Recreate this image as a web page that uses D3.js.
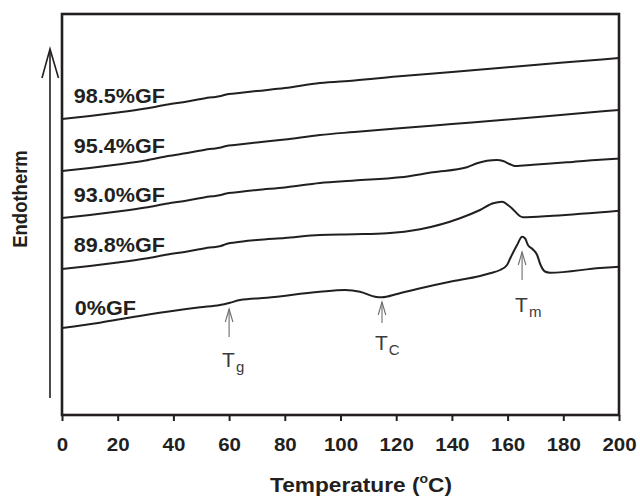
<!DOCTYPE html>
<html>
<head>
<meta charset="utf-8">
<script src="https://cdn.jsdelivr.net/npm/d3@7/dist/d3.min.js"></script>
<style>
  html, body { margin: 0; padding: 0; background: #fff; }
  svg { display: block; font-family: "Liberation Sans", Arial, Helvetica, sans-serif; }
</style>
</head>
<body>
<svg id="chart" width="640" height="498"></svg>
<script>
// DSC heating scans of PLA / glass-fibre composites.
// Temperature in °C; heat flow in arbitrary units (curves offset vertically).
const temperatureTicks = [0, 20, 40, 60, 80, 100, 120, 140, 160, 180, 200];

const curveLabels = ["98.5%GF", "95.4%GF", "93.0%GF", "89.8%GF", "0%GF"];

const gf985 = [
  [0, 296], [10, 299], [20, 302.5], [30, 306.5], [38, 310.5], [45, 313.5], [50, 316],
  [53, 317.5], [55, 318], [57, 319], [59, 320.5], [62, 321.5], [70, 324], [80, 327],
  [92.6, 332], [105, 334.5], [120, 338.4], [140, 343], [160, 347.7], [180, 352.4], [200, 357]
];

const gf954 = [
  [0, 244], [10, 247], [20, 250.5], [30, 254.5], [38, 259], [45, 262], [50, 264.5],
  [53, 266], [55, 266.5], [57, 267.5], [59, 269], [62, 270], [70, 272.5], [80, 275.5],
  [92.6, 280], [105, 283], [120, 286.5], [140, 291], [160, 295.5], [180, 300.3], [200, 305]
];

const gf930 = [
  [0, 197], [10, 200], [20, 203.5], [30, 207.5], [38, 211.5], [45, 214.5], [50, 217],
  [53, 218.5], [55, 219], [57, 220], [59, 221.5], [62, 222.5], [70, 225], [80, 227.5],
  [92.6, 232], [105, 234.5], [121.4, 237.7], [133.2, 242.7], [145.4, 247.7], [149, 251.7],
  [152.6, 254.3], [156.2, 255], [158.4, 254], [160.9, 250.7], [162.7, 249], [169.1, 250.3],
  [181.3, 252.7], [193.2, 255.3], [200, 256.3]
];

const gf898 = [
  [0, 146], [10, 149], [20, 152.5], [30, 156.5], [38, 160.5], [45, 163.5], [50, 166],
  [53, 167.5], [55, 168], [57, 169], [59, 171], [62, 172.5], [70, 175], [80, 177],
  [92.6, 180], [105, 180.7], [116.7, 181.7], [128.6, 185.7], [142.9, 196.7], [150.1, 205],
  [154.8, 211.7], [158, 213.3], [160.9, 208.3], [165.5, 197.7], [176.3, 199.3], [200, 204.3]
];

const gf0 = [
  [0, 87], [13.6, 92.3], [25.5, 98], [37.7, 103.3], [49.6, 107.7], [56.7, 110], [60.3, 112.3],
  [63.9, 115], [73.6, 117.3], [92.6, 123.3], [101.6, 125], [107, 123.3], [112.4, 118.3],
  [114.9, 117.7], [120.3, 121], [127.5, 126], [139.3, 133.3], [150.1, 139], [153.7, 141.7],
  [157.3, 145], [159.8, 150], [161, 157], [163.4, 170], [165.2, 178.3], [166.3, 176.5],
  [167.3, 170], [169.1, 165.5], [170.6, 160], [171.7, 151], [173.4, 143.5], [175.2, 142.3],
  [193.2, 147], [200, 148.3]
];

const seriesList = [gf985, gf954, gf930, gf898, gf0];
// label anchor: temperature of the label start and heat-flow level of its baseline
const labelTemps = [4.2, 4.2, 4.2, 4.2, 4.6];
const labelLevels = [312, 262, 213, 163, 100];

// transition markers: symbol, subscript, temperature, arrow tail / tip level, text level
const markerNames = ["T", "T", "T"];
const markerSubs = ["g", "C", "m"];
const markerTemps = [60, 114.9, 165.2];
const markerTails = [78, 92, 135];
const markerTips = [106, 113, 163];
const markerTextLevels = [48, 65, 103];

const svg = d3.select("#chart");
const plotLeft = 62, plotRight = 619, plotTop = 14, plotBottom = 415;
const ink = "#231f20";
const stretch = 1.08;

const x = d3.scaleLinear().domain([0, 200]).range([plotLeft, plotRight]);
const y = d3.scaleLinear().domain([0, 400]).range([plotBottom, plotTop + 1]);

// DSC traces
const line = d3.line()
  .x(d => x(d[0]))
  .y(d => y(d[1]))
  .curve(d3.curveMonotoneX);

svg.append("g")
  .selectAll("path")
  .data(seriesList)
  .join("path")
  .attr("d", line)
  .attr("fill", "none")
  .attr("stroke", ink)
  .attr("stroke-width", 2)
  .attr("stroke-linejoin", "round");

// series labels
svg.append("g")
  .selectAll("text")
  .data(curveLabels)
  .join("text")
  .attr("transform", (d, i) => `translate(${x(labelTemps[i])},${y(labelLevels[i])}) scale(${stretch},1)`)
  .attr("font-size", 20)
  .attr("font-weight", "bold")
  .attr("fill", ink)
  .text(d => d);

// bottom axis
const xAxis = d3.axisBottom(x)
  .tickValues(temperatureTicks)
  .tickSize(6)
  .tickPadding(12)
  .tickFormat(d3.format("d"));

const axisG = svg.append("g")
  .attr("transform", `translate(0,${plotBottom})`)
  .call(xAxis);
axisG.select(".domain").remove();
axisG.selectAll(".tick line").attr("stroke", ink).attr("stroke-width", 2);
axisG.selectAll(".tick text")
  .attr("fill", ink)
  .attr("font-size", 19)
  .attr("font-weight", "bold")
  .attr("font-family", "'Liberation Sans', Arial, sans-serif")
  .attr("dy", null)
  .attr("y", 36)
  .attr("transform", `scale(${stretch},1)`);

// plot frame
svg.append("rect")
  .attr("x", plotLeft)
  .attr("y", plotTop)
  .attr("width", plotRight - plotLeft)
  .attr("height", plotBottom - plotTop)
  .attr("fill", "none")
  .attr("stroke", ink)
  .attr("stroke-width", 2.6);

// x-axis title
const title = svg.append("text")
  .attr("transform", `translate(361,492) scale(${stretch},1)`)
  .attr("text-anchor", "middle")
  .attr("font-size", 21)
  .attr("font-weight", "bold")
  .attr("fill", ink);
title.append("tspan").text("Temperature (");
title.append("tspan").attr("font-size", 13).attr("dy", -9).text("o");
title.append("tspan").attr("dy", 9).text("C)");

// y-axis title and endotherm arrow
svg.append("text")
  .attr("transform", `translate(27,199) rotate(-90) scale(1,${stretch})`)
  .attr("text-anchor", "middle")
  .attr("font-size", 18.5)
  .attr("font-weight", "bold")
  .attr("fill", ink)
  .text("Endotherm");

svg.append("line")
  .attr("x1", 50).attr("x2", 50)
  .attr("y1", 398).attr("y2", 50)
  .attr("stroke", ink).attr("stroke-width", 1.6);
svg.append("path")
  .attr("d", "M42,78 L50,49 L58.5,78")
  .attr("fill", "none")
  .attr("stroke", ink)
  .attr("stroke-width", 1.6);

// transition markers
const mk = svg.append("g");
markerTemps.forEach((t, i) => {
  const mx = x(t);
  const tip = y(markerTips[i]);
  mk.append("line")
    .attr("x1", mx).attr("x2", mx)
    .attr("y1", y(markerTails[i])).attr("y2", tip)
    .attr("stroke", "#6d6d6d").attr("stroke-width", 1.1);
  mk.append("path")
    .attr("d", `M${mx - 3.8},${tip + 13} L${mx},${tip} L${mx + 3.8},${tip + 13}`)
    .attr("fill", "none").attr("stroke", "#6d6d6d").attr("stroke-width", 1.1);
  const lab = mk.append("text")
    .attr("x", mx - 7)
    .attr("y", y(markerTextLevels[i]))
    .attr("font-size", 21)
    .attr("fill", "#3a3a3a");
  lab.append("tspan").text(markerNames[i]);
  lab.append("tspan").attr("font-size", 15).attr("dy", 5).attr("dx", 1).text(markerSubs[i]);
});
</script>
</body>
</html>
